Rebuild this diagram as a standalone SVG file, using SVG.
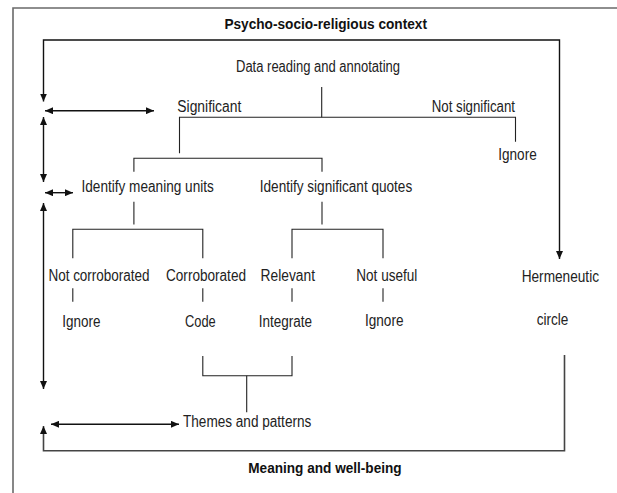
<svg xmlns="http://www.w3.org/2000/svg" width="617" height="493" viewBox="0 0 617 493">
<style>
text{font-family:"Liberation Sans",Arial,sans-serif;font-size:16px;fill:#222;}
text.b{font-weight:bold;font-size:14.5px;fill:#111;}
.ln{fill:none;stroke:#222;stroke-width:1.1;}
.ar{fill:none;stroke:#111;stroke-width:1.4;}
.fr{fill:none;stroke:#6a6a6a;stroke-width:1.6;}
.lp{fill:none;stroke:#444;stroke-width:1.6;}
</style>
<defs>
<marker id="ah" markerUnits="userSpaceOnUse" markerWidth="8" markerHeight="7" refX="8" refY="3.5" orient="auto-start-reverse">
<path d="M0,0 L8,3.5 L0,7 z" fill="#111"/>
</marker>
</defs>
<rect width="617" height="493" fill="#fff"/>
<g id="frame">
<path class="fr" d="M13,493 V8 H617"/>
</g>
<g id="connectors">
<path class="ar" d="M43.5,101.5 V40 H559.5 V259" marker-start="url(#ah)" marker-end="url(#ah)"/>
<path class="lp" d="M564.5,355 V450.7 H43.5 V426" marker-end="url(#ah)"/>
<line class="ar" x1="45" y1="110.7" x2="154" y2="110.7" marker-start="url(#ah)" marker-end="url(#ah)"/>
<line class="ar" x1="43.5" y1="117" x2="43.5" y2="182" marker-start="url(#ah)" marker-end="url(#ah)"/>
<line class="ar" x1="45" y1="192.7" x2="73" y2="192.7" marker-start="url(#ah)" marker-end="url(#ah)"/>
<line class="ar" x1="43.5" y1="203" x2="43.5" y2="389" marker-start="url(#ah)" marker-end="url(#ah)"/>
<line class="ar" x1="51" y1="424.3" x2="179" y2="424.3" marker-start="url(#ah)" marker-end="url(#ah)"/>
<path class="ln" d="M321.7,87 V117.3"/>
<path class="ln" d="M179.5,153.3 V117.3 H515.5 V141.7"/>
<path class="ln" d="M133.9,171.7 V158.3 H322 V171.7"/>
<path class="ln" d="M133.9,201.7 V224.5"/>
<path class="ln" d="M322,201.7 V224.5"/>
<path class="ln" d="M72.8,258.3 V229.3 H202.8 V258.3"/>
<path class="ln" d="M292,258.3 V229.3 H383 V258.3"/>
<path class="ln" d="M72.8,288.3 V301.7"/>
<path class="ln" d="M202.8,288.3 V301.7"/>
<path class="ln" d="M292,288.3 V301.7"/>
<path class="ln" d="M383,288.3 V301.7"/>
<path class="ln" d="M202.8,356 V375.7 H292 V356"/>
<path class="ln" d="M246.7,375.7 V412.3"/>
</g>
<g id="title"><text class="b" x="224.4" y="29.3" textLength="202.6" lengthAdjust="spacingAndGlyphs">Psycho-socio-religious context</text></g>
<g id="data"><text x="236" y="72" textLength="164" lengthAdjust="spacingAndGlyphs">Data reading and annotating</text></g>
<g id="significant"><text x="177.3" y="112.3" textLength="64" lengthAdjust="spacingAndGlyphs">Significant</text></g>
<g id="notsignificant"><text x="431.7" y="112.3" textLength="83.3" lengthAdjust="spacingAndGlyphs">Not significant</text></g>
<g id="ignore0"><text x="498.3" y="160.3" textLength="38.4" lengthAdjust="spacingAndGlyphs">Ignore</text></g>
<g id="meaningunits"><text x="81.5" y="191.8" textLength="132.3" lengthAdjust="spacingAndGlyphs">Identify meaning units</text></g>
<g id="quotes"><text x="259.8" y="191.8" textLength="152.4" lengthAdjust="spacingAndGlyphs">Identify significant quotes</text></g>
<g id="notcorroborated"><text x="48.4" y="281" textLength="101.2" lengthAdjust="spacingAndGlyphs">Not corroborated</text></g>
<g id="corroborated"><text x="166" y="281" textLength="80" lengthAdjust="spacingAndGlyphs">Corroborated</text></g>
<g id="relevant"><text x="260.6" y="281" textLength="54.4" lengthAdjust="spacingAndGlyphs">Relevant</text></g>
<g id="notuseful"><text x="356.3" y="281" textLength="61" lengthAdjust="spacingAndGlyphs">Not useful</text></g>
<g id="hermeneutic"><text x="521.7" y="282" textLength="77.3" lengthAdjust="spacingAndGlyphs">Hermeneutic</text></g>
<g id="ignore1"><text x="62.2" y="326.5" textLength="38.2" lengthAdjust="spacingAndGlyphs">Ignore</text></g>
<g id="code"><text x="185" y="326.5" textLength="30.7" lengthAdjust="spacingAndGlyphs">Code</text></g>
<g id="integrate"><text x="258.7" y="326.5" textLength="53.3" lengthAdjust="spacingAndGlyphs">Integrate</text></g>
<g id="ignore2"><text x="365" y="325.5" textLength="38.5" lengthAdjust="spacingAndGlyphs">Ignore</text></g>
<g id="circle"><text x="536.7" y="325" textLength="31.6" lengthAdjust="spacingAndGlyphs">circle</text></g>
<g id="themes"><text x="183" y="426.7" textLength="128.3" lengthAdjust="spacingAndGlyphs">Themes and patterns</text></g>
<g id="meaning"><text class="b" x="248.3" y="472.7" textLength="153.3" lengthAdjust="spacingAndGlyphs">Meaning and well-being</text></g>
</svg>
